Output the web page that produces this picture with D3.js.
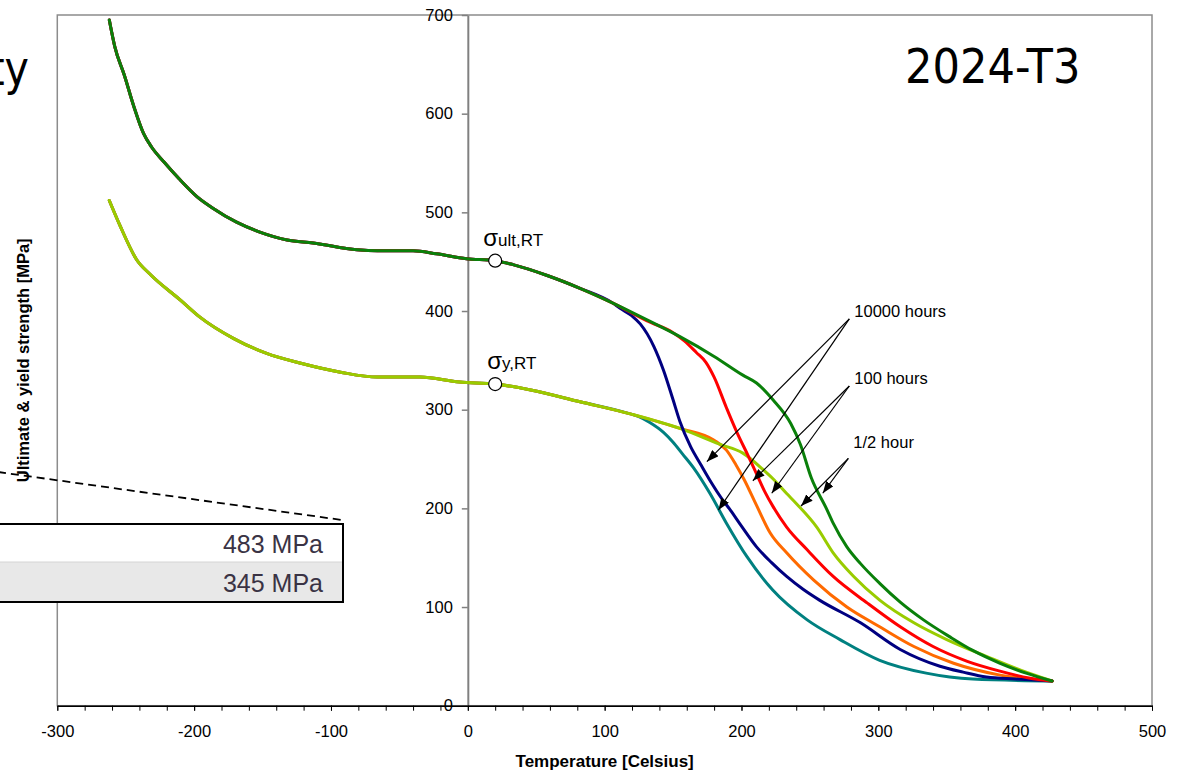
<!DOCTYPE html>
<html><head><meta charset="utf-8">
<script src="https://cdn.jsdelivr.net/npm/d3@7"></script>
<style>body{margin:0;background:#fff}svg{display:block}</style>
</head><body><svg id="chart" width="1180" height="772"></svg>
<script>
// ---------- data ----------
const xTickValues = [-300, -200, -100, 0, 100, 200, 300, 400, 500];
const xMinorTickValues = [-300,-280,-260,-240,-220,-200,-180,-160,-140,-120,-100,-80,-60,-40,-20,0,20,40,60,80,100,120,140,160,180,200,220,240,260,280,300,320,340,360,380,400,420,440,460,480,500];
const yTickValues = [0, 100, 200, 300, 400, 500, 600, 700];

// shared low-temperature part of the ultimate strength curves
const ultBaseTemp = [-262, -258, -251, -244, -237, -231, -222, -211, -198, -186, -169, -152, -132, -113, -81, -66, -40, -23, -1, 20, 33, 58, 82, 106];
const ultBaseVal  = [695, 668, 639, 607, 580, 566, 551, 534, 516, 504, 490, 480, 472, 469, 462, 461, 461, 458, 453, 451, 447, 436, 423, 408];
// ultimate, 1/2 hour exposure
const ultHalfTemp = [131, 155, 180, 201, 211, 223, 236, 243, 251, 262, 267, 277, 287, 301, 316, 333, 352, 369, 389, 408, 427];
const ultHalfVal  = [391, 374, 354, 335, 327, 310, 286, 265, 231, 200, 185, 161, 144, 124, 105, 87, 70, 56, 43, 33, 25];
// ultimate, 100 hours exposure
const ult100Temp = [131, 150, 158, 167, 174, 180, 189, 197, 205, 211, 217, 223, 233, 248, 267, 292, 316, 340, 365, 389, 410, 427];
const ult100Val  = [390, 378, 370, 358, 348, 333, 302, 276, 253, 235, 217, 202, 181, 158, 131, 104, 80, 60, 45, 35, 28, 25];
// ultimate, 10000 hours exposure
const ult10000Temp = [111, 120, 126, 136, 143, 150, 155, 163, 170, 178, 185, 192, 200, 211, 222, 233, 245, 257, 287, 316, 345, 362, 379, 400, 427];
const ult10000Val  = [403, 395, 387, 364, 340, 310, 288, 262, 245, 226, 211, 198, 182, 161, 145, 131, 118, 107, 84, 57, 40, 34, 29, 27, 25];

// shared low-temperature part of the yield strength curves
const yldBaseTemp = [-262, -254, -242, -232, -210, -196, -171, -147, -122, -93, -66, -35, -6, 20, 46, 82, 118];
const yldBaseVal  = [512, 486, 452, 437, 411, 394, 372, 357, 347, 338, 333, 333, 328, 326, 320, 308, 296];
// yield, 1/2 hour
const yldHalfTemp = [155, 184, 201, 216, 223, 233, 240, 255, 267, 282, 301, 326, 350, 379, 404, 427];
const yldHalfVal  = [281, 265, 256, 239, 230, 215, 205, 181, 155, 131, 107, 84, 67, 50, 36, 25];
// yield, 100 hours
const yld100Temp = [155, 180, 189, 196, 202, 211, 221, 233, 253, 277, 301, 326, 355, 389, 427];
const yld100Val  = [281, 269, 259, 244, 229, 203, 175, 155, 127, 100, 80, 60, 43, 31, 25];
// yield, 10000 hours
const yld10000Temp = [125, 133, 143, 150, 157, 165, 177, 189, 204, 223, 248, 272, 301, 335, 369, 427];
const yld10000Val  = [293, 287, 277, 267, 255, 241, 215, 185, 151, 117, 87, 67, 46, 33, 27, 25];

const seriesNames  = ["yield 10000 h", "yield 100 h", "yield 1/2 h", "ult 10000 h", "ult 100 h", "ult 1/2 h"];
const seriesColors = ["#008080", "#ff6a00", "#99cc00", "#000080", "#ff0000", "#0a800a"];

// room-temperature reference points
const rtTemp = [20, 20];
const rtVal  = [451, 326];
const rtLabelMain = ["σ", "σ"];
const rtLabelSub  = ["ult,RT", "y,RT"];

// exposure-time annotations: label anchor and arrow targets (data coords)
const annoLabels = ["10000 hours", "100 hours", "1/2 hour"];
const annoFrom   = [[278.8, 392], [278.8, 324], [278.1, 250.7]];
const annoTo     = [[[174.7, 247.3], [183.1, 198.3]], [[208.3, 228], [222.1, 215.3]], [[243.5, 202.4], [259.4, 215.3]]];

// callout table
const tableValues = [483, 345];

// ---------- drawing ----------
const svg = d3.select("#chart");
const font = "'Liberation Sans', Arial, sans-serif";
const x = d3.scaleLinear().domain([-300, 500]).range([57.3, 1152]);
const y = d3.scaleLinear().domain([0, 700]).range([705.7, 15]);

// slide title fragment (cut by the left edge, as in the reference)
svg.append("text").attr("transform", "translate(29,85) scale(0.86,1)")
  .attr("text-anchor", "end").attr("font-family", "'DejaVu Sans', sans-serif")
  .attr("font-size", 48).attr("fill", "#000").text("Property");

// plot frame
svg.append("rect").attr("x", x(-300)).attr("y", y(700)).attr("width", x(500) - x(-300))
  .attr("height", y(0) - y(700)).attr("fill", "none").attr("stroke", "#8c8c8c").attr("stroke-width", 1.5);

svg.append("text").attr("transform", "translate(905,83) scale(0.9,1)")
  .attr("font-family", "'DejaVu Sans', sans-serif").attr("font-size", 48).attr("fill", "#000").text("2024-T3");

// y axis at T = 0
const yAxis = svg.append("g").attr("transform", `translate(${x(0)},0)`)
  .call(d3.axisLeft(y).tickValues(yTickValues).tickFormat(d => String(d)).tickSize(6).tickSizeOuter(0).tickPadding(9));
yAxis.select(".domain").attr("stroke", "#808080").attr("stroke-width", 2);
yAxis.selectAll(".tick line").attr("stroke", "#808080").attr("stroke-width", 1.5);
yAxis.selectAll("text").attr("font-family", font).attr("font-size", 16.5).attr("fill", "#000");

// x axis
const xMinor = svg.append("g").attr("transform", `translate(0,${y(0)})`)
  .call(d3.axisBottom(x).tickValues(xMinorTickValues).tickSize(5).tickSizeOuter(0).tickFormat(""));
xMinor.select(".domain").attr("stroke", "#000").attr("stroke-width", 1.5);
xMinor.selectAll(".tick line").attr("stroke", "#000");
const xAxis = svg.append("g").attr("transform", `translate(0,${y(0)})`)
  .call(d3.axisBottom(x).tickValues(xTickValues).tickFormat(d => String(d)).tickSize(5).tickSizeOuter(0).tickPadding(15));
xAxis.select(".domain").remove();
xAxis.selectAll(".tick line").attr("stroke", "#000");
xAxis.selectAll("text").attr("font-family", font).attr("font-size", 16.5).attr("fill", "#000");

// axis titles
svg.append("text").attr("x", (x(-300) + x(500)) / 2).attr("y", 767).attr("text-anchor", "middle")
  .attr("font-family", font).attr("font-size", 17).attr("font-weight", "bold").text("Temperature [Celsius]");
svg.append("text").attr("transform", `translate(29,${(y(0) + y(700)) / 2}) rotate(-90)`).attr("text-anchor", "middle")
  .attr("font-family", font).attr("font-size", 16.5).attr("font-weight", "bold").text("Ultimate & yield strength [MPa]");

// curves
const zip = (t, v) => t.map((d, i) => [d, v[i]]);
const seriesPts = [
  zip(yldBaseTemp.concat(yld10000Temp), yldBaseVal.concat(yld10000Val)),
  zip(yldBaseTemp.concat(yld100Temp), yldBaseVal.concat(yld100Val)),
  zip(yldBaseTemp.concat(yldHalfTemp), yldBaseVal.concat(yldHalfVal)),
  zip(ultBaseTemp.concat(ult10000Temp), ultBaseVal.concat(ult10000Val)),
  zip(ultBaseTemp.concat(ult100Temp), ultBaseVal.concat(ult100Val)),
  zip(ultBaseTemp.concat(ultHalfTemp), ultBaseVal.concat(ultHalfVal))
];
const line = d3.line().x(d => x(d[0])).y(d => y(d[1])).curve(d3.curveMonotoneX);
svg.append("g").selectAll("path").data(seriesPts).join("path")
  .attr("d", line).attr("fill", "none").attr("stroke", (d, i) => seriesColors[i])
  .attr("stroke-width", 3).attr("stroke-linejoin", "round").attr("stroke-linecap", "round")
  .append("title").text((d, i) => seriesNames[i]);

// room temperature markers
rtTemp.forEach((t, i) => {
  svg.append("circle").attr("cx", x(t)).attr("cy", y(rtVal[i])).attr("r", 6.5)
    .attr("fill", "#fff").attr("stroke", "#000").attr("stroke-width", 1.2);
  const tx = svg.append("text").attr("x", x(t) - (i === 0 ? 12 : 8)).attr("y", y(rtVal[i]) - 15)
    .attr("font-family", font).attr("fill", "#000");
  tx.append("tspan").attr("font-size", 24).text(rtLabelMain[i]);
  tx.append("tspan").attr("font-size", 17).text(rtLabelSub[i]);
});

// arrows
const defs = svg.append("defs");
defs.append("marker").attr("id", "ah").attr("viewBox", "0 0 12 9").attr("refX", 12).attr("refY", 4.5)
  .attr("markerWidth", 12).attr("markerHeight", 9).attr("markerUnits", "userSpaceOnUse").attr("orient", "auto")
  .append("path").attr("d", "M0,0L12,4.5L0,9Z").attr("fill", "#000");
annoLabels.forEach((lab, i) => {
  const [ft, fv] = annoFrom[i];
  annoTo[i].forEach(([tt, tv]) => {
    svg.append("line").attr("x1", x(ft)).attr("y1", y(fv)).attr("x2", x(tt)).attr("y2", y(tv))
      .attr("stroke", "#000").attr("stroke-width", 1.2).attr("marker-end", "url(#ah)");
  });
  svg.append("text").attr("x", x(ft) + 5).attr("y", y(fv) - (i === 2 ? 10 : 2))
    .attr("font-family", font).attr("font-size", 16.5).attr("fill", "#000").text(lab);
});

// dashed callout line and table
svg.append("line").attr("x1", -2).attr("y1", 472).attr("x2", 342).attr("y2", 520)
  .attr("stroke", "#000").attr("stroke-width", 1.8).attr("stroke-dasharray", "8,5");
const tb = svg.append("g");
tb.append("rect").attr("x", -10).attr("y", 562).attr("width", 353).attr("height", 40).attr("fill", "#e8e8e8");
tb.append("rect").attr("x", -10).attr("y", 524).attr("width", 353).attr("height", 38).attr("fill", "#fff");
tb.append("line").attr("x1", -10).attr("x2", 343).attr("y1", 562).attr("y2", 562).attr("stroke", "#d4d4d4");
tb.append("rect").attr("x", -10).attr("y", 524).attr("width", 353).attr("height", 78)
  .attr("fill", "none").attr("stroke", "#000").attr("stroke-width", 2);
tableValues.forEach((v, i) => {
  tb.append("text").attr("x", 323).attr("y", 553 + i * 38.5).attr("text-anchor", "end")
    .attr("font-family", font).attr("font-size", 25).attr("fill", "#3a3344").text(v + " MPa");
});
</script></body></html>
